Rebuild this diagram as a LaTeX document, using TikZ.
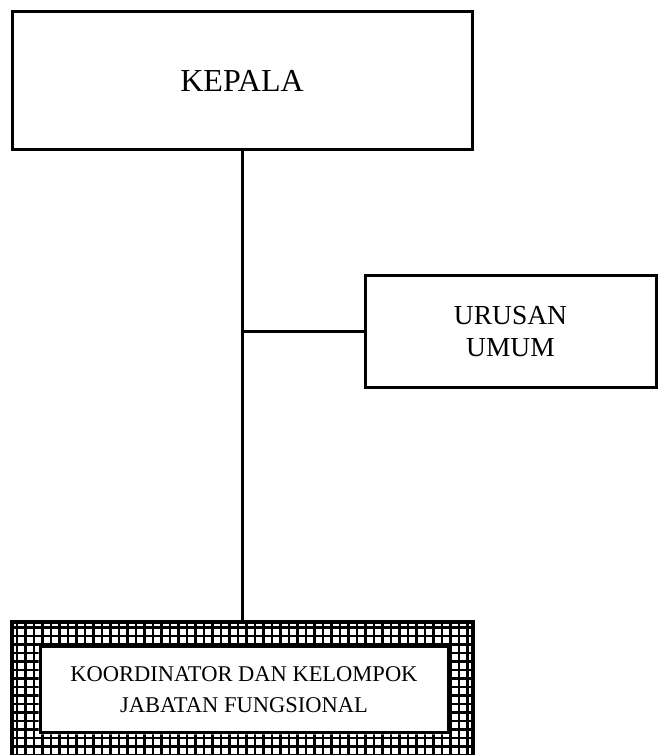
\documentclass[tikz,border=0pt]{standalone}
\usepackage{fontspec}
\setmainfont{Liberation Serif}
\usetikzlibrary{positioning}
\tikzstyle{orgbox} = [text centered, draw, rectangle, line width=3pt, inner sep=0pt]
\tikzstyle{headbox} = [orgbox, minimum width=460pt, minimum height=138pt, font=\fontsize{32}{36}\selectfont]
\tikzstyle{staffbox} = [orgbox, align=center, minimum width=291pt, minimum height=112pt, font=\fontsize{27.5}{32}\selectfont]
\tikzstyle{groupbox} = [orgbox, align=center, fill=white, minimum width=408pt, minimum height=86pt, font=\fontsize{22.5}{31}\selectfont]
\tikzstyle{groupframe} = [draw, rectangle, line width=4pt, minimum width=461pt, minimum height=141pt]
\tikzstyle{orgline} = [line width=3pt]

\begin{document}
\begin{tikzpicture}[x=1pt, y=1pt]
		\useasboundingbox (0,0) rectangle (657,755);
		\node (kepala) [headbox] at (242,674) {KEPALA};
		\node (urusan) [staffbox] at (510.5,423) {URUSAN\\UMUM};
		\node (frame) [groupframe] at (242.5,62.5) {};
		\node (koordinator) [groupbox] at (244,65) {KOORDINATOR DAN KELOMPOK\\JABATAN FUNGSIONAL};
		% checkered band between frame and inner box
		\begin{scope}[even odd rule]
			\clip (frame.south west) rectangle (frame.north east)
				(koordinator.south west) rectangle (koordinator.north east);
			\draw [line width=2.1pt, step=8.5pt] (frame.south west) grid (frame.north east);
		\end{scope}
		\node [groupframe] at (frame) {};
		\coordinate (junction) at (kepala.south |- urusan.west);
		\draw [orgline] (kepala.south) -- (kepala.south |- frame.north);
		\draw [orgline] (junction) -- (urusan.west);
	\end{tikzpicture}
\end{document}
